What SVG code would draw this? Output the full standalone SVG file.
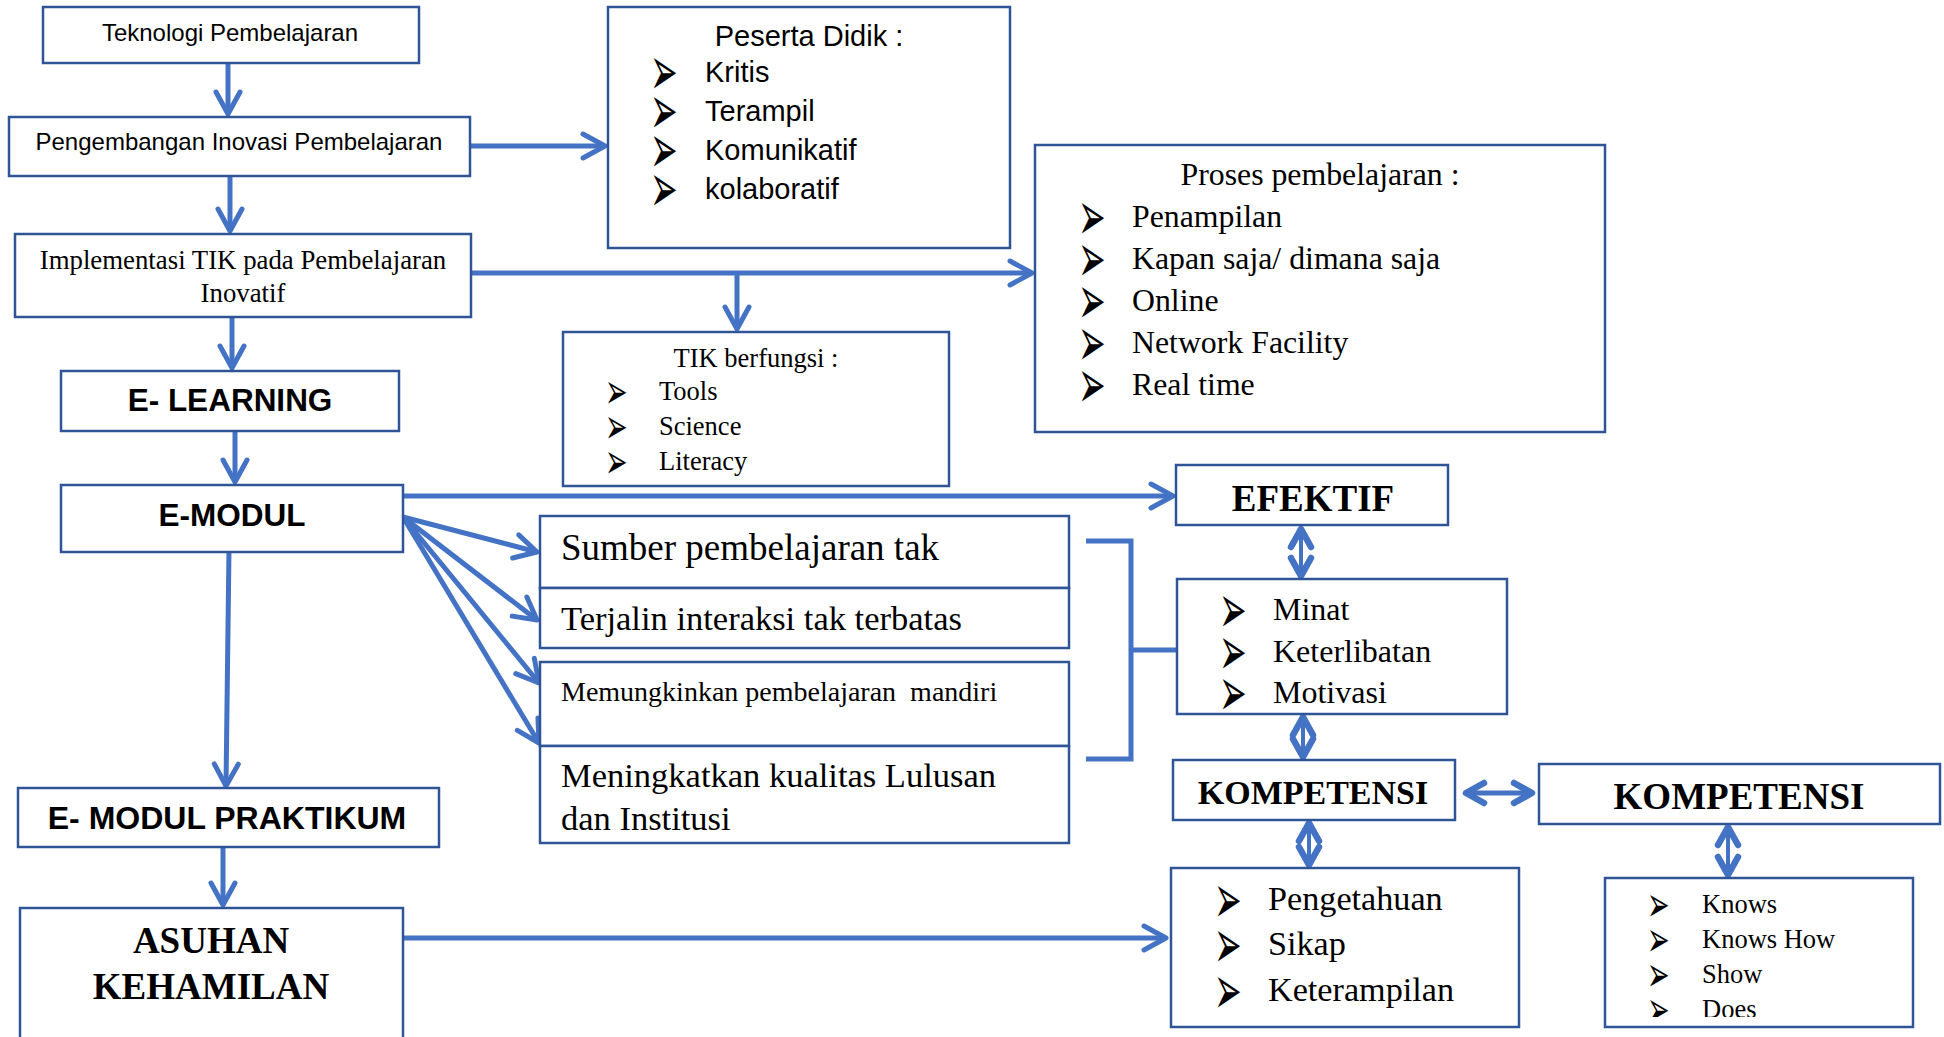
<svg xmlns="http://www.w3.org/2000/svg" width="1944" height="1037" viewBox="0 0 1944 1037">
<style>
.box{fill:#fff;stroke:#2F5597;stroke-width:2.5}
.sans{font-family:"Liberation Sans",Arial,sans-serif;fill:#000}
.serif{font-family:"Liberation Serif","Times New Roman",serif;fill:#000}
.bold{font-weight:bold}
.c{text-anchor:middle}
.con{fill:none;stroke:#4472C4;stroke-width:5}
.dbl{fill:none;stroke:#4472C4;stroke-width:4}
.bul{font-family:"DejaVu Sans",sans-serif;fill:#000}
.bl{font-size:33px}
.bs{font-size:27px}
</style>
<defs>
<marker id="ah" markerUnits="userSpaceOnUse" refX="0" refY="0" markerWidth="40" markerHeight="40" orient="auto" overflow="visible">
<path d="M-22,-12 L0,0 L-22,12" fill="none" stroke="#4472C4" stroke-width="5" stroke-linecap="round" stroke-linejoin="round"/>
</marker>
<marker id="dh" markerUnits="userSpaceOnUse" refX="0" refY="0" markerWidth="40" markerHeight="40" orient="auto-start-reverse" overflow="visible">
<path d="M-19,-10 L-1,0 L-19,10" fill="none" stroke="#4472C4" stroke-width="6.5" stroke-linecap="round" stroke-linejoin="round"/>
</marker>
<clipPath id="clipKnows"><rect x="1605" y="878" width="308" height="139"/></clipPath>
</defs>

<g id="connectors">
<line class="con" x1="228" y1="63" x2="228" y2="114" marker-end="url(#ah)"/>
<line class="con" x1="230" y1="176" x2="230" y2="231" marker-end="url(#ah)"/>
<line class="con" x1="232" y1="317" x2="232" y2="368" marker-end="url(#ah)"/>
<line class="con" x1="235" y1="431" x2="235" y2="482" marker-end="url(#ah)"/>
<line class="con" x1="471" y1="146" x2="605" y2="146" marker-end="url(#ah)"/>
<line class="con" x1="471" y1="273" x2="1032" y2="273" marker-end="url(#ah)"/>
<line class="con" x1="737" y1="273" x2="737" y2="329" marker-end="url(#ah)"/>
<line class="con" x1="403" y1="496" x2="1173" y2="496" marker-end="url(#ah)"/>
<line class="con" x1="403" y1="517" x2="537" y2="552" marker-end="url(#ah)"/>
<line class="con" x1="403" y1="517" x2="537" y2="620" marker-end="url(#ah)"/>
<line class="con" x1="403" y1="517" x2="539" y2="683" marker-end="url(#ah)"/>
<line class="con" x1="403" y1="517" x2="539" y2="743" marker-end="url(#ah)"/>
<line class="con" x1="229" y1="549" x2="226" y2="786" marker-end="url(#ah)"/>
<line class="con" x1="223" y1="847" x2="223" y2="905" marker-end="url(#ah)"/>
<line class="con" x1="403" y1="938" x2="1166" y2="938" marker-end="url(#ah)"/>
<polyline class="con" points="1086,541 1131,541 1131,759 1086,759"/>
<line class="con" x1="1131" y1="650" x2="1177" y2="650"/>
<line class="dbl" x1="1301" y1="528" x2="1301" y2="577" marker-start="url(#dh)" marker-end="url(#dh)"/>
<line class="dbl" x1="1303" y1="716" x2="1303" y2="758" marker-start="url(#dh)" marker-end="url(#dh)"/>
<line class="con" x1="1465" y1="793" x2="1533" y2="793" marker-start="url(#dh)" marker-end="url(#dh)"/>
<line class="dbl" x1="1309" y1="822" x2="1309" y2="866" marker-start="url(#dh)" marker-end="url(#dh)"/>
<line class="dbl" x1="1728" y1="826" x2="1728" y2="876" marker-start="url(#dh)" marker-end="url(#dh)"/>
</g>

<g id="n-teknologi">
<rect class="box" x="43" y="7" width="376" height="56"/>
<text class="sans c" x="230" y="41" font-size="24">Teknologi Pembelajaran</text>
</g>
<g id="n-pengembangan">
<rect class="box" x="9" y="117" width="461" height="59"/>
<text class="sans c" x="239" y="150" font-size="24">Pengembangan Inovasi Pembelajaran</text>
</g>
<g id="n-implementasi">
<rect class="box" x="15" y="234" width="456" height="83"/>
<text class="serif c" x="243" y="269" font-size="26.8">Implementasi TIK pada Pembelajaran</text>
<text class="serif c" x="243" y="302" font-size="26.8">Inovatif</text>
</g>
<g id="n-elearning">
<rect class="box" x="61" y="371" width="338" height="60"/>
<text class="sans bold c" x="230" y="411" font-size="31.5">E- LEARNING</text>
</g>
<g id="n-emodul">
<rect class="box" x="61" y="485" width="342" height="67"/>
<text class="sans bold c" x="232" y="526" font-size="31.5">E-MODUL</text>
</g>
<g id="n-praktikum">
<rect class="box" x="18" y="788" width="421" height="59"/>
<text class="sans bold c" x="227" y="829" font-size="32">E- MODUL PRAKTIKUM</text>
</g>
<g id="n-asuhan">
<rect class="box" x="20" y="908" width="383" height="150"/>
<text class="serif bold c" x="211" y="953" font-size="37">ASUHAN</text>
<text class="serif bold c" x="211" y="999" font-size="37">KEHAMILAN</text>
</g>
<g id="n-peserta">
<rect class="box" x="608" y="7" width="402" height="241"/>
<text class="sans c" x="809" y="46" font-size="29">Peserta Didik :</text>
<text class="bul bl" transform="translate(650,0) scale(1,2.1)"><tspan x="0" y="45.24">➢</tspan><tspan x="0" y="63.81">➢</tspan><tspan x="0" y="82.38">➢</tspan><tspan x="0" y="100.95">➢</tspan></text>
<g class="sans" font-size="29">
<text x="705" y="82">Kritis</text><text x="705" y="121">Terampil</text><text x="705" y="160">Komunikatif</text><text x="705" y="199">kolaboratif</text>
</g>
</g>
<g id="n-tik">
<rect class="box" x="563" y="332" width="386" height="154"/>
<text class="serif c" x="756" y="367" font-size="26.5">TIK berfungsi :</text>
<text class="bul bs" transform="translate(605,0) scale(1,1.8)"><tspan x="0" y="226.67">➢</tspan><tspan x="0" y="246.11">➢</tspan><tspan x="0" y="265.56">➢</tspan></text>
<g class="serif" font-size="26.5">
<text x="659" y="400">Tools</text><text x="659" y="435">Science</text><text x="659" y="470">Literacy</text>
</g>
</g>
<g id="n-proses">
<rect class="box" x="1035" y="145" width="570" height="287"/>
<text class="serif c" x="1320" y="185" font-size="31.8">Proses pembelajaran :</text>
<text class="bul bl" transform="translate(1078,0) scale(1,2.1)"><tspan x="0" y="114.29">➢</tspan><tspan x="0" y="134.29">➢</tspan><tspan x="0" y="154.29">➢</tspan><tspan x="0" y="174.29">➢</tspan><tspan x="0" y="194.29">➢</tspan></text>
<g class="serif" font-size="31.8">
<text x="1132" y="227">Penampilan</text><text x="1132" y="269">Kapan saja/ dimana saja</text><text x="1132" y="311">Online</text><text x="1132" y="353">Network Facility</text><text x="1132" y="395">Real time</text>
</g>
</g>
<g id="n-efektif">
<rect class="box" x="1176" y="465" width="272" height="60"/>
<text class="serif bold c" x="1313" y="511" font-size="37">EFEKTIF</text>
</g>
<g id="n-minat">
<rect class="box" x="1177" y="579" width="330" height="135"/>
<text class="bul bl" transform="translate(1219,0) scale(1,2.1)"><tspan x="0" y="301.43">➢</tspan><tspan x="0" y="321.43">➢</tspan><tspan x="0" y="340.95">➢</tspan></text>
<g class="serif" font-size="32">
<text x="1273" y="620">Minat</text><text x="1273" y="662">Keterlibatan</text><text x="1273" y="703">Motivasi</text>
</g>
</g>
<g id="n-kompetensi1">
<rect class="box" x="1173" y="760" width="282" height="60"/>
<text class="serif bold c" x="1313" y="804" font-size="34">KOMPETENSI</text>
</g>
<g id="n-kompetensi2">
<rect class="box" x="1539" y="764" width="401" height="60"/>
<text class="serif bold c" x="1739" y="809" font-size="37">KOMPETENSI</text>
</g>
<g id="n-pengetahuan">
<rect class="box" x="1171" y="868" width="348" height="159"/>
<text class="bul bl" transform="translate(1214,0) scale(1,2.1)"><tspan x="0" y="439.52">➢</tspan><tspan x="0" y="460.95">➢</tspan><tspan x="0" y="482.86">➢</tspan></text>
<g class="serif" font-size="34.2">
<text x="1268" y="910">Pengetahuan</text><text x="1268" y="955">Sikap</text><text x="1268" y="1001">Keterampilan</text>
</g>
</g>
<g id="n-knows">
<rect class="box" x="1605" y="878" width="308" height="149"/>
<g clip-path="url(#clipKnows)">
<text class="bul bs" transform="translate(1647,0) scale(1,1.8)"><tspan x="0" y="511.67">➢</tspan><tspan x="0" y="531.11">➢</tspan><tspan x="0" y="550.56">➢</tspan><tspan x="0" y="570">➢</tspan></text>
<g class="serif" font-size="26.5">
<text x="1702" y="913">Knows</text><text x="1702" y="948">Knows How</text><text x="1702" y="983">Show</text><text x="1702" y="1018">Does</text>
</g>
</g>
</g>
<g id="n-sumber">
<rect class="box" x="540" y="516" width="529" height="72"/>
<text class="serif" x="561" y="560" font-size="37">Sumber pembelajaran tak</text>
</g>
<g id="n-terjalin">
<rect class="box" x="540" y="588" width="529" height="60"/>
<text class="serif" x="561" y="630" font-size="34.5">Terjalin interaksi tak terbatas</text>
</g>
<g id="n-memungkinkan">
<rect class="box" x="540" y="662" width="529" height="84"/>
<text class="serif" x="561" y="701" font-size="28" xml:space="preserve">Memungkinkan pembelajaran  mandiri</text>
</g>
<g id="n-meningkatkan">
<rect class="box" x="540" y="746" width="529" height="97"/>
<text class="serif" x="561" y="787" font-size="34.5">Meningkatkan kualitas Lulusan</text>
<text class="serif" x="561" y="830" font-size="34.5">dan Institusi</text>
</g>
</svg>
